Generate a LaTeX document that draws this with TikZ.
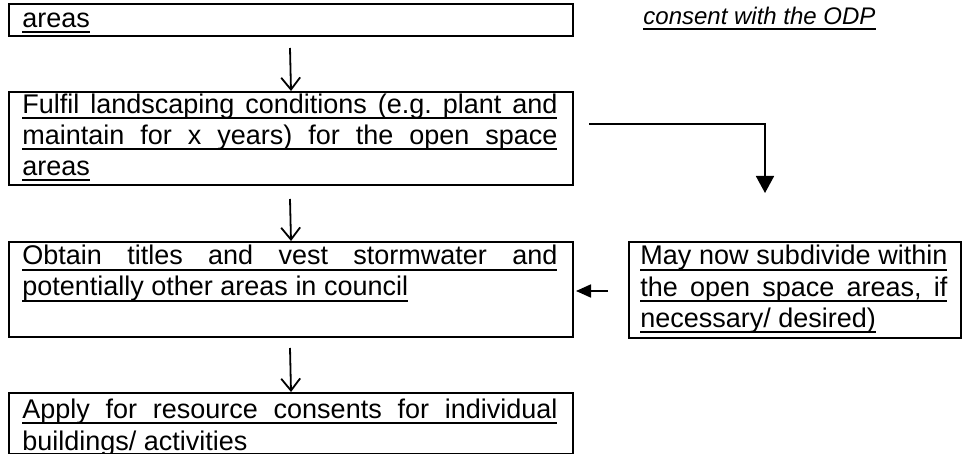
\documentclass[tikz,border=0pt]{standalone}
\usepackage{fontspec}
\setmainfont{Liberation Sans}
\usetikzlibrary{arrows.meta}
\frenchspacing
\newcommand\mainfnt{\fontsize{13.5pt}{15.5pt}\selectfont\frenchspacing}
\newcommand\notefnt{\fontsize{12pt}{14pt}\selectfont\itshape\frenchspacing}
\newcommand\ulj[2]{\makebox[0pt][l]{\rule[-2.75pt]{#1}{1pt}}\makebox[#1][s]{#2}}
\newcommand\uln[1]{\sbox0{#1}\makebox[0pt][l]{\rule[-2.75pt]{\wd0}{1pt}}\usebox0}
\tikzset{
  boxx/.style={draw=black, line width=1pt, rectangle, anchor=north west, inner sep=0pt, minimum width=282pt},
  ln/.style={anchor=base west, inner sep=0pt, font=\mainfnt},
  dnarrow/.style={line width=0.9pt, -{Straight Barb[length=6pt,width=9.5pt,line width=0.9pt]}},
  elb/.style={line width=0.9pt, -{Triangle[length=8.5pt,width=9pt]}},
  lfa/.style={line width=0.9pt, shorten >=1pt, -{Triangle[length=7.5pt,width=6.5pt]}}
}
\begin{document}
\begin{tikzpicture}[x=0.5pt,y=-0.5pt]
\path[use as bounding box, fill=white] (0,0) rectangle (964,454);
% boxes
\node[boxx, minimum height=16pt] (b1) at (8,3) {};
\node[boxx, minimum height=46.5pt] (b2) at (8,91) {};
\node[boxx, minimum height=47.5pt] (b3) at (8,241) {};
\node[boxx, minimum width=166pt, minimum height=48pt] (b4) at (628,241) {};
\node[boxx, minimum height=30.5pt] (b5) at (8,392) {};
% texts
\node[ln] (t1) at (22,28) {\uln{areas}};
\node[ln, font=\notefnt] (c1) at (643,25) {\uln{consent with the ODP}};
\node[ln] (t2a) at (22,114) {\ulj{267.5pt}{Fulfil landscaping conditions (e.g. plant and}};
\node[ln] (t2b) at (22,145) {\ulj{267.5pt}{maintain for x years) for the open space}};
\node[ln] (t2c) at (22,176) {\uln{areas}};
\node[ln] (t3a) at (22,265) {\ulj{267.5pt}{Obtain titles and vest stormwater and}};
\node[ln] (t3b) at (22,296) {\uln{potentially other areas in council}};
\node[ln] (t4a) at (640,265) {\ulj{153.5pt}{May now subdivide within}};
\node[ln] (t4b) at (640,297) {\ulj{153.5pt}{the open space areas, if}};
\node[ln] (t4c) at (640,328) {\uln{necessary/ desired)}};
\node[ln] (t5a) at (22,418) {\ulj{267.5pt}{Apply for resource consents for individual}};
\node[ln] (t5b) at (22,450) {\uln{buildings/ activities}};
% connectors
\coordinate (a1) at (290,48);
\coordinate (a2) at (290,199);
\coordinate (a3) at (290,348);
\draw[dnarrow] (a1) -- (b2.north);
\draw[dnarrow] (a2) -- (b3.north);
\draw[dnarrow] (a3) -- (b5.north);
\coordinate (e0) at (589,124);
\coordinate (e1) at (765,193);
\draw[elb] (e0) -| (e1);
\coordinate (l0) at (608,291);
\draw[lfa] (l0) -- (l0 -| b3.east);
\end{tikzpicture}
\end{document}
